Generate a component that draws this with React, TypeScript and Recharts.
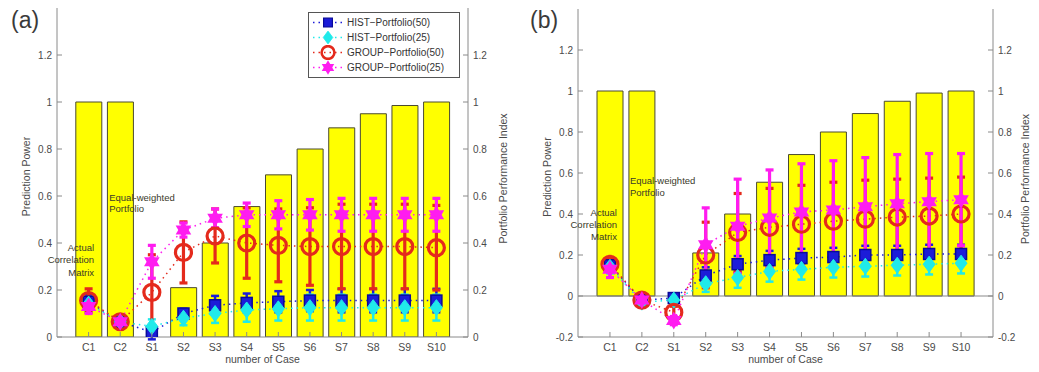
import React from 'react';
import {
  ComposedChart,
  Bar,
  Line,
  XAxis,
  YAxis,
  ErrorBar,
  ReferenceLine,
  ReferenceDot,
  Legend,
  Label,
} from 'recharts';

// ---------- data ----------
const cases = ['C1', 'C2', 'S1', 'S2', 'S3', 'S4', 'S5', 'S6', 'S7', 'S8', 'S9', 'S10'];
const ticksA = [0, 0.2, 0.4, 0.6, 0.8, 1, 1.2];
const ticksB = [-0.2, 0, 0.2, 0.4, 0.6, 0.8, 1, 1.2];

// portfolio performance index (bars)
const perfA = [1, 1, 0, 0.21, 0.4, 0.555, 0.69, 0.8, 0.89, 0.95, 0.985, 1.0];
const perfB = [1, 1, 0, 0.21, 0.4, 0.555, 0.69, 0.8, 0.89, 0.95, 0.99, 1.0];

// panel (a): prediction power, mean and error half-width
const histA50 = [0.15, 0.065, 0.02, 0.1, 0.135, 0.145, 0.15, 0.155, 0.155, 0.155, 0.155, 0.155];
const histA50Err = [0.03, 0.02, 0.03, 0.02, 0.04, 0.04, 0.045, 0.045, 0.05, 0.05, 0.05, 0.05];
const histA25 = [0.14, 0.065, 0.045, 0.08, 0.1, 0.115, 0.12, 0.125, 0.125, 0.125, 0.125, 0.125];
const histA25Err = [0.03, 0.02, 0.03, 0.03, 0.04, 0.05, 0.05, 0.055, 0.055, 0.055, 0.055, 0.055];
const groupA50 = [0.155, 0.065, 0.19, 0.36, 0.43, 0.4, 0.39, 0.385, 0.385, 0.385, 0.385, 0.38];
const groupA50Err = [0.05, 0.02, 0.16, 0.13, 0.115, 0.15, 0.155, 0.165, 0.18, 0.18, 0.18, 0.18];
const groupA25 = [0.13, 0.065, 0.32, 0.455, 0.505, 0.52, 0.52, 0.52, 0.52, 0.52, 0.52, 0.52];
const groupA25Err = [0.03, 0.02, 0.07, 0.03, 0.04, 0.05, 0.06, 0.065, 0.07, 0.07, 0.07, 0.07];

// panel (b)
const histB50 = [0.15, -0.02, -0.01, 0.1, 0.155, 0.175, 0.185, 0.19, 0.2, 0.2, 0.205, 0.205];
const histB50Err = [0.03, 0.02, 0.02, 0.04, 0.04, 0.045, 0.045, 0.045, 0.045, 0.045, 0.045, 0.045];
const histB25 = [0.14, -0.03, -0.02, 0.06, 0.09, 0.12, 0.13, 0.14, 0.145, 0.15, 0.155, 0.16];
const histB25Err = [0.03, 0.02, 0.02, 0.04, 0.05, 0.05, 0.05, 0.05, 0.05, 0.05, 0.05, 0.05];
const groupB50 = [0.155, -0.02, -0.08, 0.2, 0.31, 0.335, 0.35, 0.365, 0.375, 0.385, 0.39, 0.4];
const groupB50Err = [0.03, 0.02, 0.03, 0.16, 0.19, 0.19, 0.19, 0.19, 0.19, 0.185, 0.185, 0.18];
const groupB25 = [0.13, -0.02, -0.12, 0.25, 0.34, 0.38, 0.41, 0.42, 0.435, 0.45, 0.46, 0.47];
const groupB25Err = [0.04, 0.03, 0.02, 0.18, 0.23, 0.235, 0.235, 0.24, 0.24, 0.24, 0.235, 0.225];

const seriesNames = [
  'HIST\u2212Portfolio(50)',
  'HIST\u2212Portfolio(25)',
  'GROUP\u2212Portfolio(50)',
  'GROUP\u2212Portfolio(25)',
];

// ---------- styles ----------
const FONT = '"Liberation Sans", Arial, sans-serif';
const AXIS = '#8a8a8a';
const TXT = '#4a4a4a';
const BLUE = '#1c1cd8';
const CYAN = '#20eaea';
const RED = '#e42a1c';
const MAGENTA = '#ff1cf0';

// ---------- markers ----------
type MP = { cx?: number; cy?: number };

const SquareMark = ({ cx, cy }: MP) =>
  cx == null || cy == null ? null : (
    <rect x={cx - 5.5} y={cy - 5.5} width={11} height={11} fill={BLUE} stroke="#0a0a9a" strokeWidth={1.5} />
  );

const DiamondMark = ({ cx, cy }: MP) =>
  cx == null || cy == null ? null : (
    <polygon
      points={`${cx},${cy - 8} ${cx + 6},${cy} ${cx},${cy + 8} ${cx - 6},${cy}`}
      fill={CYAN}
      stroke={CYAN}
      strokeWidth={1}
    />
  );

const CircleMark = ({ cx, cy }: MP) =>
  cx == null || cy == null ? null : (
    <circle cx={cx} cy={cy} r={8} fill="none" stroke={RED} strokeWidth={3.2} />
  );

const hexPts = (cx: number, cy: number, r: number, start: number) =>
  [0, 1, 2]
    .map((k) => {
      const a = ((start + k * 120) * Math.PI) / 180;
      return `${cx + r * Math.cos(a)},${cy + r * Math.sin(a)}`;
    })
    .join(' ');

const HexMark = ({ cx, cy }: MP) =>
  cx == null || cy == null ? null : (
    <g>
      <polygon points={hexPts(cx, cy, 9, -90)} fill={MAGENTA} />
      <polygon points={hexPts(cx, cy, 9, 90)} fill={MAGENTA} />
    </g>
  );

const markers = [SquareMark, DiamondMark, CircleMark, HexMark];
const colors = [BLUE, CYAN, RED, MAGENTA];

// ---------- axis ticks (inward tick marks, MATLAB style) ----------
const fmt = (v: number) => String(Math.round(v * 10) / 10);

const LeftTick = (p: any) => (
  <g>
    <line x1={p.x + 4} x2={p.x + 9} y1={p.y} y2={p.y} stroke={AXIS} />
    <text x={p.x - 1} y={p.y} textAnchor="end" dominantBaseline="central" fontSize={10} fill={TXT} fontFamily={FONT}>
      {fmt(p.payload.value)}
    </text>
  </g>
);

const RightTick = (p: any) => (
  <g>
    <line x1={p.x - 4} x2={p.x - 9} y1={p.y} y2={p.y} stroke={AXIS} />
    <text x={p.x + 1} y={p.y} textAnchor="start" dominantBaseline="central" fontSize={10} fill={TXT} fontFamily={FONT}>
      {fmt(p.payload.value)}
    </text>
  </g>
);

const BottomTick = (p: any) => (
  <g>
    <line x1={p.x} x2={p.x} y1={p.y - 5} y2={p.y - 10} stroke={AXIS} />
    <text x={p.x} y={p.y + 9} textAnchor="middle" fontSize={10.5} fill={TXT} fontFamily={FONT}>
      {p.payload.value}
    </text>
  </g>
);

const TopTick = (p: any) => (
  <line x1={p.x} x2={p.x} y1={p.y + 4} y2={p.y + 9} stroke={AXIS} />
);

// ---------- annotation labels ----------
const makeNote = (lines: string[], dx: number, dys: number[], anchor: 'start' | 'end') => (props: any) => {
  const vb = props.viewBox || {};
  return (
    <g>
      {lines.map((t, i) => (
        <text
          key={t}
          x={vb.x + dx}
          y={vb.y + dys[i]}
          textAnchor={anchor}
          dominantBaseline="central"
          fontSize={9.5}
          fill="#3a3a2a"
          fontFamily={FONT}
        >
          {t}
        </text>
      ))}
    </g>
  );
};

// ---------- legend ----------
const LegendBox = () => (
  <div
    style={{
      border: '1px solid #555',
      background: '#fff',
      padding: '2px 6px 2px 2px',
      fontFamily: FONT,
      fontSize: 10,
      color: '#333',
      width: 142,
    }}
  >
    {seriesNames.map((name, i) => {
      const M = markers[i];
      return (
        <div key={name} style={{ display: 'flex', alignItems: 'center', height: 15 }}>
          <svg width={34} height={15}>
            <line x1={2} x2={32} y1={7.5} y2={7.5} stroke={colors[i]} strokeWidth={1.5} strokeDasharray="1.5 4" />
            <g transform="translate(17,7.5) scale(0.8) translate(-17,-7.5)">
              <M cx={17} cy={7.5} />
            </g>
          </svg>
          <span style={{ marginLeft: 2 }}>{name}</span>
        </div>
      );
    })}
  </div>
);

// ---------- panel ----------
type PanelProps = {
  width: number;
  top: number;
  leftW: number;
  rightW: number;
  pad: number;
  domain: [number, number];
  ticks: number[];
  perf: number[];
  h50: number[];
  h50e: number[];
  h25: number[];
  h25e: number[];
  g50: number[];
  g50e: number[];
  g25: number[];
  g25e: number[];
  zeroLine: boolean;
  legend: boolean;
  notes: { actualY: number; actualDx: number; actualDy: number[]; equalY: number; equalDx: number; equalDy: number[] };
};

const Panel = (p: PanelProps) => {
  const rows = cases.map((c, i) => ({
    name: c,
    perf: p.perf[i],
    h50: p.h50[i],
    h50e: p.h50e[i],
    h25: p.h25[i],
    h25e: p.h25e[i],
    g50: p.g50[i],
    g50e: p.g50e[i],
    g25: p.g25[i],
    g25e: p.g25e[i],
  }));
  const series = [
    { key: 'h50', err: 'h50e' },
    { key: 'h25', err: 'h25e' },
    { key: 'g50', err: 'g50e' },
    { key: 'g25', err: 'g25e' },
  ];
  return (
    <ComposedChart
      width={p.width}
      height={372}
      data={rows}
      margin={{ top: p.top, right: 0, bottom: 0, left: 0 }}
      style={{ fontFamily: FONT }}
    >
      <XAxis
        dataKey="name"
        height={35}
        padding={{ left: p.pad, right: p.pad }}
        stroke={AXIS}
        tickLine={false}
        tickSize={0}
        tickMargin={5}
        interval={0}
        tick={<BottomTick />}
      >
        <Label value="number of Case" position="insideBottom" offset={9} fontSize={10.5} fill={TXT} />
      </XAxis>
      <XAxis
        xAxisId="top"
        orientation="top"
        dataKey="name"
        height={0}
        padding={{ left: p.pad, right: p.pad }}
        stroke={AXIS}
        tickLine={false}
        tickSize={0}
        tickMargin={4}
        interval={0}
        tick={<TopTick />}
      />
      <YAxis
        yAxisId="l"
        width={p.leftW}
        domain={p.domain}
        ticks={p.ticks}
        allowDataOverflow
        stroke={AXIS}
        tickLine={false}
        tickSize={0}
        tickMargin={4}
        interval={0}
        tick={<LeftTick />}
      >
        <Label value="Prediction Power" angle={-90} position="center" dx={-2} dy={4} fontSize={10.5} fill={TXT} />
      </YAxis>
      <YAxis
        yAxisId="r"
        orientation="right"
        width={p.rightW}
        domain={p.domain}
        ticks={p.ticks.filter((t) => t <= 1.2)}
        allowDataOverflow
        stroke={AXIS}
        tickLine={false}
        tickSize={0}
        tickMargin={4}
        interval={0}
        tick={<RightTick />}
      >
        <Label value="Portfolio Performance Index" angle={-90} position="center" dx={9} dy={6} fontSize={10.5} fill={TXT} />
      </YAxis>

      {p.zeroLine && <ReferenceLine yAxisId="l" y={0} stroke={AXIS} strokeWidth={1.2} />}

      <Bar
        yAxisId="r"
        dataKey="perf"
        barSize={26}
        fill="#ffff00"
        stroke="#4a4a30"
        strokeWidth={1}
        isAnimationActive={false}
      />

      {series.map((s, i) => {
        const M = markers[i];
        return (
          <Line
            key={s.key}
            yAxisId="l"
            dataKey={s.key}
            stroke={colors[i]}
            strokeWidth={1.5}
            strokeDasharray="1.5 4"
            isAnimationActive={false}
            dot={(dp: any) => <M key={`${s.key}-${dp.index}`} cx={dp.cx} cy={dp.cy} />}
            activeDot={false}
          >
            <ErrorBar
              dataKey={s.err}
              direction="y"
              width={4}
              stroke={colors[i]}
              strokeWidth={i >= 2 ? 3.2 : 2.5}
              isAnimationActive={false}
            />
          </Line>
        );
      })}

      <ReferenceDot
        yAxisId="l"
        x="C1"
        y={p.notes.actualY}
        r={0}
        ifOverflow="visible"
        label={makeNote(['Actual', 'Correlation', 'Matrix'], p.notes.actualDx, p.notes.actualDy, 'end')}
      />
      <ReferenceDot
        yAxisId="l"
        x="C2"
        y={p.notes.equalY}
        r={0}
        ifOverflow="visible"
        label={makeNote(['Equal-weighted', 'Portfolio'], p.notes.equalDx, p.notes.equalDy, 'start')}
      />

      {p.legend && (
        <Legend
          layout="vertical"
          align="center"
          verticalAlign="middle"
          wrapperStyle={{ left: 308, top: 12, width: 152 }}
          content={() => <LegendBox />}
        />
      )}
    </ComposedChart>
  );
};

const panelTag: React.CSSProperties = {
  position: 'absolute',
  fontFamily: FONT,
  fontSize: 23,
  color: '#3a3a3a',
  lineHeight: '24px',
};

export default function App() {
  return (
    <div style={{ position: 'absolute', left: 0, top: 0, width: 1039, height: 372, background: '#fff' }}>
      <div style={{ position: 'absolute', left: 0, top: 0 }}>
        <Panel
          width={520}
          top={8}
          leftW={57}
          rightW={52}
          pad={15.8}
          domain={[0, 1.4]}
          ticks={ticksA}
          perf={perfA}
          h50={histA50}
          h50e={histA50Err}
          h25={histA25}
          h25e={histA25Err}
          g50={groupA50}
          g50e={groupA50Err}
          g25={groupA25}
          g25e={groupA25Err}
          zeroLine={false}
          legend
          notes={{ actualY: 0.33, actualDx: 5.5, actualDy: [-11.5, 0.5, 13.5], equalY: 0.6, equalDx: -11, equalDy: [1, 12] }}
        />
      </div>
      <div style={{ position: 'absolute', left: 520, top: 0 }}>
        <Panel
          width={519}
          top={9}
          leftW={58}
          rightW={46}
          pad={16}
          domain={[-0.2, 1.4]}
          ticks={ticksB}
          perf={perfB}
          h50={histB50}
          h50e={histB50Err}
          h25={histB25}
          h25e={histB25Err}
          g50={groupB50}
          g50e={groupB50Err}
          g25={groupB25}
          g25e={groupB25Err}
          zeroLine
          legend={false}
          notes={{ actualY: 0.35, actualDx: 7, actualDy: [-12, 0, 12], equalY: 0.55, equalDx: -12, equalDy: [-3, 9] }}
        />
      </div>
      <div style={{ ...panelTag, left: 11, top: 8 }}>(a)</div>
      <div style={{ ...panelTag, left: 530, top: 8 }}>(b)</div>
    </div>
  );
}
